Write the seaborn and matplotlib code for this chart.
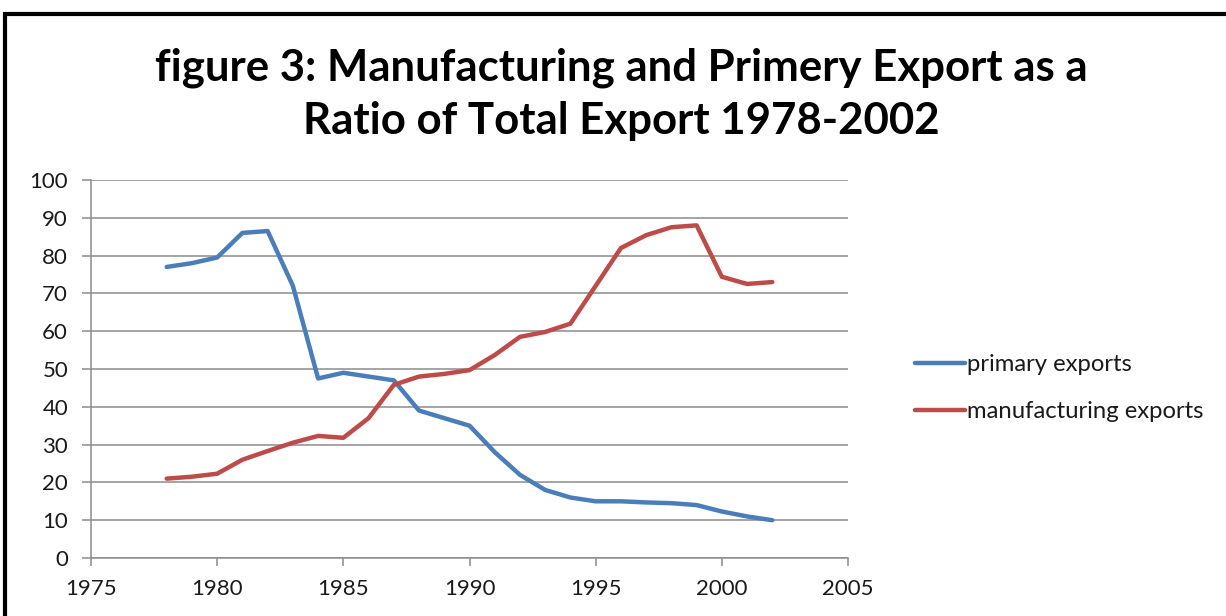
import matplotlib
matplotlib.use("Agg")
import matplotlib.pyplot as plt
import seaborn as sns
import pandas as pd
from matplotlib.patches import Rectangle
from matplotlib.lines import Line2D

years = list(range(1978, 2003))
primary = [77, 78, 79.5, 86, 86.5, 72, 47.5, 49, 48, 47, 39, 37, 35, 28, 22,
           18, 16, 15, 15, 14.7, 14.5, 14, 12.3, 11, 10]
manufacturing = [21, 21.5, 22.3, 26, 28.3, 30.5, 32.3, 31.8, 37, 45.8, 48, 48.7,
                 49.7, 53.7, 58.5, 59.8, 62, 72, 82, 85.4, 87.5, 88, 74.4, 72.5, 73]
series_names = ["primary exports", "manufacturing exports"]
title = "figure 3: Manufacturing and Primery Export as a\nRatio of Total Export 1978-2002"
xticks = [1975, 1980, 1985, 1990, 1995, 2000, 2005]
yticks = list(range(0, 101, 10))

df = pd.DataFrame({
    "year": years * 2,
    "value": primary + manufacturing,
    "series": [series_names[0]] * len(years) + [series_names[1]] * len(years),
})

sns.set_theme(style="white")
plt.rcParams["font.family"] = ["Lato", "DejaVu Sans"]

fig = plt.figure(figsize=(12.26, 6.16), dpi=100)
ax = fig.add_axes([91 / 1226, 1 - 558 / 616, (848 - 91) / 1226, (558 - 180) / 616])

palette = {series_names[0]: "#4A7EBB", series_names[1]: "#BE4B48"}
sns.lineplot(data=df, x="year", y="value", hue="series", palette=palette,
             linewidth=3.2, ax=ax, legend=False, solid_capstyle="round",
             solid_joinstyle="round")

ax.set_xlim(1975, 2005)
ax.set_ylim(0, 100)
ax.set_xticks(xticks)
ax.set_yticks(yticks)
ax.set_xticklabels([str(t) for t in xticks], fontsize=16, color="#1a1a1a")
ax.set_yticklabels([str(t) for t in yticks], fontsize=16, color="#1a1a1a")
ax.set_xlabel("")
ax.set_ylabel("")
ax.yaxis.grid(True, color="#8c8c8c", linewidth=1.1)
ax.xaxis.grid(False)
for s in ["top", "right"]:
    ax.spines[s].set_visible(False)
for s in ["left", "bottom"]:
    ax.spines[s].set_color("#8c8c8c")
    ax.spines[s].set_linewidth(1.1)
ax.tick_params(axis="x", which="both", bottom=True, length=6, width=1.1,
               color="#8c8c8c", direction="out", pad=9)
ax.tick_params(axis="y", which="both", left=True, length=6.5, width=1.1,
               color="#8c8c8c", direction="out", pad=10)

handles = [Line2D([], [], color=palette[n], linewidth=3.2) for n in series_names]
fig.legend(handles, series_names, loc="center left",
           bbox_to_anchor=(893 / 1226, 1 - 388 / 616), frameon=False,
           fontsize=17.2, handlelength=2.1, handletextpad=0.1, labelspacing=1.08,
           labelcolor="#1a1a1a")

fig.text(0.5 + 8 / 1226, 1 - 94 / 616, title, ha="center", va="center",
         fontsize=31.5, fontweight="bold", color="black", linespacing=1.4)

fig.add_artist(Rectangle((5 / 1226, -0.2), 2.0, 1.2 - 14 / 616,
                         transform=fig.transFigure, fill=False,
                         edgecolor="black", linewidth=3.0))

fig.savefig("out.png", dpi=100)
